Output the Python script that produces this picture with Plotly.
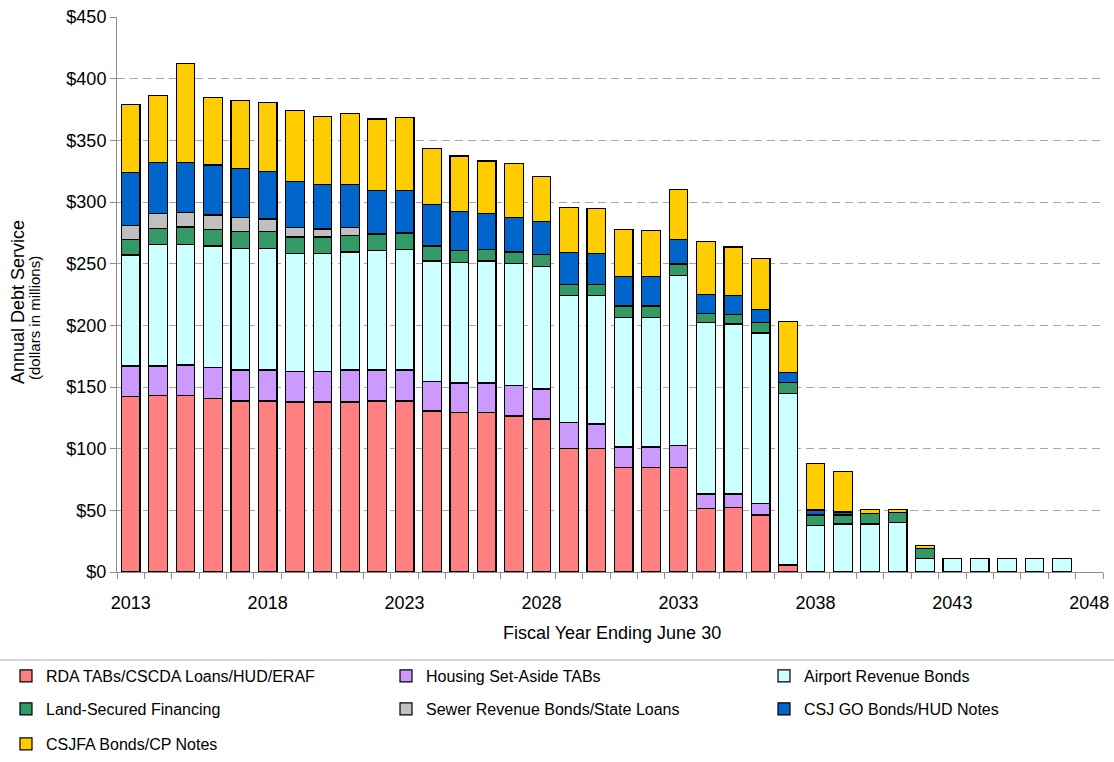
import plotly.graph_objects as go

# Fiscal years shown on the category axis (2048 is an empty slot at the end)
years = list(range(2013, 2048))
tick_years = [2013, 2018, 2023, 2028, 2033, 2038, 2043, 2048]

# Annual debt service by program, dollars in millions
rda = [142, 143, 143, 141, 138.6, 138.6, 137.8, 137.8, 137.8, 138.6, 138.6, 130.5,
       129.5, 129.5, 126.5, 124.1, 100.3, 100.3, 84.6, 84.6, 84.6, 51.6, 52.4, 46.2,
       5.7, None, None, None, None, None, None, None, None, None, None]
housing = [25, 24, 24.8, 24.7, 25.2, 25.2, 24.9, 24.9, 26, 25.2, 25.2, 23.9,
           23.7, 23.7, 24.7, 24.3, 20.8, 19.7, 16.8, 16.8, 17.8, 11.6, 10.8, 9.5,
           None, None, None, None, None, None, None, None, None, None, None]
airport = [90, 98.4, 97.6, 98.6, 98.6, 98.6, 95.7, 95.7, 95.7, 96.7, 97.6, 97.8,
           97.9, 99, 99.1, 99.5, 102.9, 104, 104.8, 104.8, 138.2, 139, 137.9, 138.1,
           139.2, 37.8, 38.9, 38.9, 40, 10.8, 10.8, 10.8, 10.8, 10.8, 10.8]
land_secured = [12.7, 13.3, 14.3, 13.6, 13.5, 13.5, 13.2, 13.2, 13.4, 13.5, 13.5, 12.1,
                9.4, 9.2, 9.2, 9.6, 9, 9, 9.5, 9.5, 9.1, 7.3, 7.5, 8.4,
                8.6, 8.4, 7.3, 8.7, 8.4, 8.4, None, None, None, None, None]
sewer = [11.3, 11.8, 11.6, 11.6, 11.7, 10.3, 7.9, 6.5, 6.3, None, None, None,
         None, None, None, None, None, None, None, None, None, None, None, None,
         None, None, None, None, None, None, None, None, None, None, None]
csj_go = [42.8, 41.5, 40.7, 40.5, 39.4, 38.8, 37, 36.2, 35.1, 35.5, 34.6, 33.5,
          31.9, 29.1, 27.8, 26.8, 26.2, 25.4, 23.7, 23.7, 20.1, 15.7, 15.4, 10.5,
          8.4, 4.1, 2.4, None, None, None, None, None, None, None, None]
csjfa = [55.2, 54.5, 80, 55, 55, 56, 57.5, 55.2, 57.3, 57.8, 58.9, 45.8,
         44.9, 42.7, 43.8, 36.5, 36.5, 36.2, 38.5, 37.6, 40.5, 42.6, 39.5, 41.3,
         41.4, 37.5, 33, 3.2, 2.4, 2.1, None, None, None, None, None]

series = [
    ("RDA TABs/CSCDA Loans/HUD/ERAF", rda, "#FF8080"),
    ("Housing Set-Aside TABs", housing, "#CC99FF"),
    ("Airport Revenue Bonds", airport, "#CCFFFF"),
    ("Land-Secured Financing", land_secured, "#339966"),
    ("Sewer Revenue Bonds/State Loans", sewer, "#C0C0C0"),
    ("CSJ GO Bonds/HUD Notes", csj_go, "#0066CC"),
    ("CSJFA Bonds/CP Notes", csjfa, "#FFCC00"),
]

FONT = "Liberation Sans, Arial, sans-serif"
AXIS_GRAY = "#8C8C8C"

# Plot area in pixels
W, H = 1114, 762
L, R, T, B = 117, 11, 17, 190
PW, PH = W - L - R, H - T - B


def px_x(px):
    return (px - L) / PW


def px_y(py):
    return (H - B - py) / PH


fig = go.Figure()

# One single-entry legend per trace so the entries sit in a 3-column grid
legend_names = ["legend", "legend2", "legend3", "legend4", "legend5", "legend6", "legend7"]
col_text_x = [48, 428, 806]
row_y = [676, 709, 744]

legend_layout = {}
for i, (name, vals, color) in enumerate(series):
    fig.add_trace(go.Bar(
        x=years, y=vals, name=name,
        marker=dict(color=color, line=dict(color="#000000", width=1.2)),
        legend=legend_names[i],
    ))
    r, c = divmod(i, 3)
    legend_layout[legend_names[i]] = dict(
        x=px_x(col_text_x[c] - 42), y=px_y(row_y[r]),
        xanchor="left", yanchor="middle", orientation="v",
        font=dict(family=FONT, size=16, color="#000000"),
        bgcolor="rgba(0,0,0,0)", borderwidth=0,
    )

fig.update_layout(
    barmode="stack", bargap=0.32,
    width=W, height=H,
    margin=dict(l=L, r=R, t=T, b=B, pad=0, autoexpand=False),
    paper_bgcolor="white", plot_bgcolor="white",
    font=dict(family=FONT, color="#000000"),
    showlegend=True,
    **legend_layout,
)

fig.update_xaxes(
    range=[2012.5, 2048.5],
    tickmode="array", tickvals=tick_years, ticktext=[str(y) for y in tick_years],
    ticks="outside", ticklen=14, tickcolor="rgba(0,0,0,0)",
    tickfont=dict(family=FONT, size=18, color="#000000"),
    showline=True, linecolor=AXIS_GRAY, linewidth=1,
    showgrid=False, zeroline=False,
    minor=dict(ticks="outside", ticklen=6, tickcolor=AXIS_GRAY,
               tick0=2012.5, dtick=1, showgrid=False),
)

fig.update_yaxes(
    range=[0, 450],
    tickmode="array", tickvals=list(range(0, 451, 50)),
    ticktext=[f"${v}" for v in range(0, 451, 50)],
    ticks="outside", ticklen=6, tickcolor=AXIS_GRAY,
    tickfont=dict(family=FONT, size=18, color="#000000"),
    showline=True, linecolor=AXIS_GRAY, linewidth=1,
    showgrid=True, gridcolor="#A6A6A6", gridwidth=1, griddash="8px,5px",
    zeroline=False,
)

# Axis titles
fig.add_annotation(
    text="Annual Debt Service", textangle=-90,
    xref="paper", yref="paper", x=px_x(18), y=px_y(302),
    xanchor="center", yanchor="middle", showarrow=False,
    font=dict(family=FONT, size=18, color="#000000"),
)
fig.add_annotation(
    text="(dollars in millions)", textangle=-90,
    xref="paper", yref="paper", x=px_x(34), y=px_y(318),
    xanchor="center", yanchor="middle", showarrow=False,
    font=dict(family=FONT, size=15, color="#000000"),
)
fig.add_annotation(
    text="Fiscal Year Ending June 30",
    xref="paper", yref="paper", x=px_x(612), y=px_y(633),
    xanchor="center", yanchor="middle", showarrow=False,
    font=dict(family=FONT, size=18, color="#000000"),
)

# Rule separating the legend from the chart
fig.add_shape(
    type="line", xref="paper", yref="paper",
    x0=px_x(0), x1=px_x(W), y0=px_y(660), y1=px_y(660),
    line=dict(color="#C8C8C8", width=1.5),
)

fig.write_html("out.html")
